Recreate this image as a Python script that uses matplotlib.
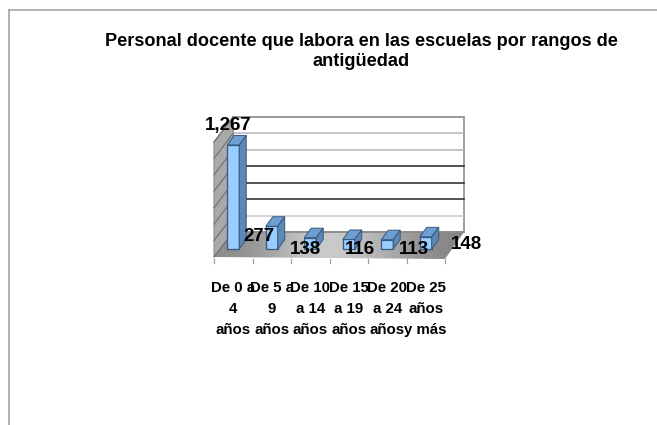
import numpy as np
import matplotlib
matplotlib.use("Agg")
import matplotlib.pyplot as plt
from matplotlib.patches import Polygon
from matplotlib.lines import Line2D

plt.rcParams['font.family'] = ['Liberation Sans', 'DejaVu Sans']

# chart data
titulo = "Personal docente que labora en las escuelas por rangos de\nantigüedad"
categorias = ["De 0 a\n4\naños", "De 5 a\n9\naños", "De 10\na 14\naños",
              "De 15\na 19\naños", "De 20\na 24\naños", "De 25\naños\ny más"]
valores = [1267, 277, 138, 116, 113, 148]
etiquetas = ["1,267", "277", "138", "116", "113", "148"]
y_ticks = [0, 200, 400, 600, 800, 1000, 1200, 1400]

# offsets of the value labels, in pixels, because they sit a bit anywhere
label_dx = [-5, -13, -5, 11, 27, 41]
label_dy = [19, -10, -12, -10, -10, -8]

W, H = 657, 425
fig = plt.figure(figsize=(W / 100, H / 100), dpi=100)
ax = fig.add_axes([214 / W, (H - 249) / H, 231 / W, 115 / H])
ax.set_xlim(0, 6)
ax.set_ylim(0, 1400)
ax.axis('off')

# size of one pixel in data units
px = 6 / 231
py = 1400 / 115

# depth of the box, and how far the floor front sits under the bars
fondo_x = 19 * px
fondo_y = 25 * py
base = -8 * py
pared_y = base + fondo_y

# floor with lighter middle, image has to be allowed outside the axes box
piso = Polygon([(0, base), (6, base - 2 * py), (6 + fondo_x, pared_y), (fondo_x, pared_y)],
               closed=True, fc='none', ec='none', zorder=1, clip_on=False)
ax.add_patch(piso)
grad = np.array([[0.55, 0.62, 0.78, 0.80, 0.72, 0.60, 0.52]])
img = ax.imshow(grad, cmap='gray', vmin=0, vmax=1, aspect='auto', interpolation='bicubic',
                extent=[0, 6 + fondo_x, base - 2 * py, pared_y], zorder=1)
img.set_clip_box(fig.bbox)
img.set_clip_path(piso)
ax.set_xlim(0, 6)
ax.set_ylim(0, 1400)

# back wall and side wall
alto = pared_y + 1400
ax.add_patch(Polygon([(fondo_x, pared_y), (6 + fondo_x, pared_y), (6 + fondo_x, alto), (fondo_x, alto)],
                     closed=True, fc='white', ec='#8c8c8c', lw=1.2, zorder=1, clip_on=False))
ax.add_patch(Polygon([(0, base), (fondo_x, pared_y), (fondo_x, alto), (0, alto - fondo_y)],
                     closed=True, fc='#a9a9a9', ec='#8c8c8c', lw=0.8, zorder=1, clip_on=False))

# gridlines, the middle ones come out dark
colores_grid = ['#8c8c8c', '#c8c8c8', '#222222', '#222222', '#222222', '#b5b5b5', '#b5b5b5', '#9a9a9a']
for t, c in zip(y_ticks, colores_grid):
    yb = pared_y + t * (alto - pared_y) / 1400
    ax.plot([fondo_x, 6 + fondo_x], [yb, yb], color=c, lw=1.1, zorder=1.5, clip_on=False)
    ax.plot([0, fondo_x], [yb - fondo_y, yb], color='#6e6e6e', lw=0.8, zorder=1.5, clip_on=False)

# ticks below the floor
for i in range(7):
    ax.plot([i, i], [base - 2 * py, base - 6 * py], color='#a0a0a0', lw=0.9, clip_on=False, zorder=1.5)

# bars, front face through ax.bar and depth faces added on top
ancho = 0.31
prof_x = 7 * px
prof_y = 9.5 * py
posiciones = np.arange(len(valores)) + 0.5
ax.bar(posiciones, valores, width=ancho, color='#99ccff', edgecolor='#35587c', linewidth=0.9,
       zorder=3, clip_on=False)
for x, v in zip(posiciones, valores):
    l, r = x - ancho / 2, x + ancho / 2
    ax.add_patch(Polygon([(l, v), (r, v), (r + prof_x, v + prof_y), (l + prof_x, v + prof_y)],
                         closed=True, fc='#6f9fd0', ec='#35587c', lw=0.7, zorder=3, clip_on=False))
    ax.add_patch(Polygon([(r, 0), (r + prof_x, prof_y), (r + prof_x, v + prof_y), (r, v)],
                         closed=True, fc='#5c88b5', ec='#35587c', lw=0.7, zorder=3, clip_on=False))

# value labels
for x, v, e, dx, dy in zip(posiciones, valores, etiquetas, label_dx, label_dy):
    ax.text(x + dx * px, v + dy * py, e, fontsize=13.5, fontweight='bold', color='black',
            ha='center', va='center', zorder=5, clip_on=False)

# category labels
for x, c in zip(posiciones, categorias):
    ax.text(x, -32 * py, c, fontsize=10.8, fontweight='bold', color='black', ha='center', va='top',
            linespacing=1.62, zorder=5, clip_on=False)

# title and outer frame
fig.text(361 / W, 1 - 33 / H, titulo, fontsize=13.1, fontweight='bold', ha='center', va='top',
         linespacing=1.2)
fig.add_artist(Line2D([9 / W, 9 / W], [0, 1 - 10 / H], color='#a6a6a6', lw=1.2))
fig.add_artist(Line2D([9 / W, 1], [1 - 10 / H, 1 - 10 / H], color='#a6a6a6', lw=1.2))

fig.savefig("out.png", dpi=100)
